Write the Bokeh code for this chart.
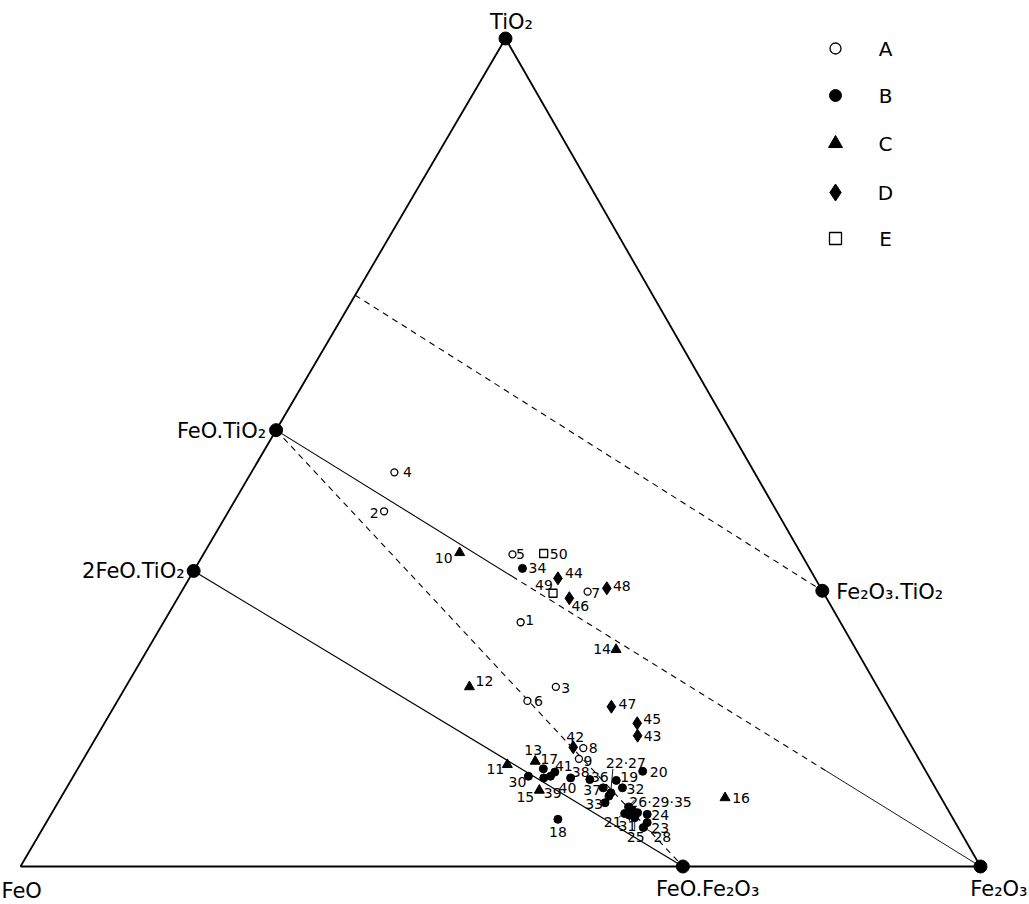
import numpy as np
from bokeh.plotting import figure
from bokeh.models import Range1d, ColumnDataSource
from bokeh.core.properties import value
from bokeh.embed import file_html
from bokeh.resources import INLINE

# ---------------- data (weight %) ----------------
sample_ids = [str(i) for i in range(1, 51)]
groups = (["A"] * 9) + (["C"] * 7) + (["B"] * 25) + (["D"] * 7) + (["E"] * 2)
tio2 = [29.5, 42.9, 21.7, 47.6, 37.7, 20.0, 33.2, 14.3, 13.0,
        37.9, 12.3, 21.7, 12.7, 26.2, 9.2, 8.3,
        11.8, 5.7, 10.4, 11.5, 6.4, 8.9, 5.3, 6.3, 5.9, 7.2, 8.5, 4.7, 6.8, 10.9,
        6.2, 9.5, 7.7, 36.0, 6.5, 10.5, 9.5, 10.7, 10.7, 10.9, 11.4,
        14.4, 15.8, 34.8, 17.3, 32.4, 19.3, 33.6,
        33.0, 37.8]
fe2o3 = [37.2, 16.2, 44.8, 14.9, 32.2, 42.7, 42.3, 51.4, 51.6,
         26.6, 44.5, 35.8, 47.2, 48.8, 49.4, 69.2,
         48.5, 53.1, 56.8, 59.0, 59.7, 57.0, 62.6, 62.1, 61.0, 59.7, 57.0, 62.5, 60.3, 47.4,
         60.3, 57.9, 57.0, 34.1, 61.0, 54.0, 55.9, 51.9, 49.1, 49.7, 49.9,
         50.3, 56.3, 38.4, 55.5, 40.8, 51.8, 44.1,
         38.8, 35.4]
feo = [33.3, 40.9, 33.5, 37.5, 30.1, 37.3, 24.5, 34.3, 35.4,
       35.5, 43.2, 42.5, 40.1, 25.0, 41.4, 22.5,
       39.7, 41.2, 32.8, 29.5, 33.9, 34.1, 32.1, 31.6, 33.1, 33.1, 34.5, 32.8, 32.9, 41.7,
       33.5, 32.6, 35.3, 29.9, 32.5, 35.5, 34.6, 37.4, 40.2, 39.4, 38.7,
       35.3, 27.9, 26.8, 27.2, 26.8, 28.9, 22.3,
       28.2, 26.8]
# combined labels in the original
point_labels = {"22": "22·27", "27": "", "26": "26·29·35", "29": "", "35": ""}

# reference compositions (weight %)
mineral_names = ["TiO₂", "FeO", "Fe₂O₃", "FeO.TiO₂", "2FeO.TiO₂",
                 "Fe₂O₃.TiO₂", "FeO.Fe₂O₃", "FeO.2TiO₂"]
mineral_tio2 = [100.0, 0.0, 0.0, 52.7, 35.7, 33.3, 0.0, 69.0]
mineral_fe2o3 = [0.0, 0.0, 100.0, 0.0, 0.0, 66.7, 69.0, 0.0]

legend_groups = ["A", "B", "C", "D", "E"]

# ---------------- layout ----------------
AX, AY = 50.52, 86.25      # apex position in plot units (base 0..100)
PX = 9.6                   # pixels per plot unit
W, H = 1029, 904
X0, Y0 = 20, 866           # pixel position of the FeO corner


def to_xy(t, f):
    t = np.asarray(t, float) / 100.0
    f = np.asarray(f, float) / 100.0
    return f * 100.0 + t * AX, t * AY


mx, my = to_xy(mineral_tio2, mineral_fe2o3)
M = {n: (mx[i], my[i]) for i, n in enumerate(mineral_names)}

p = figure(width=W, height=H,
           x_range=Range1d(-X0 / PX, (W - X0) / PX),
           y_range=Range1d(-(H - Y0) / PX, Y0 / PX),
           output_backend="svg", toolbar_location=None,
           x_axis_location=None, y_axis_location=None, min_border=0)
p.outline_line_color = None
p.background_fill_color = "white"
p.border_fill_color = "white"
p.grid.grid_line_color = None

FONT = value("DejaVu Sans")


def seg(a, b, frac0=0.0, frac1=1.0, **kw):
    x0, y0 = M[a]
    x1, y1 = M[b]
    xs = [x0 + (x1 - x0) * frac0, x0 + (x1 - x0) * frac1]
    ys = [y0 + (y1 - y0) * frac0, y0 + (y1 - y0) * frac1]
    p.line(xs, ys, line_color="black", **kw)


# triangle
seg("FeO", "Fe₂O₃", line_width=2.0)
seg("FeO", "TiO₂", line_width=1.8)
seg("Fe₂O₃", "TiO₂", line_width=1.8)
# tie lines
seg("2FeO.TiO₂", "FeO.Fe₂O₃", line_width=1.2)
seg("FeO.TiO₂", "FeO.Fe₂O₃", line_width=1.1, line_dash="6 5")
seg("FeO.2TiO₂", "Fe₂O₃.TiO₂", line_width=1.1, line_dash="6 5")
seg("FeO.TiO₂", "Fe₂O₃", 0.0, 0.335, line_width=1.1)
seg("FeO.TiO₂", "Fe₂O₃", 0.335, 0.78, line_width=1.1, line_dash="6 5")
seg("FeO.TiO₂", "Fe₂O₃", 0.78, 1.0, line_width=0.9)

# vertex dots
dot_names = ["TiO₂", "Fe₂O₃", "FeO.TiO₂", "2FeO.TiO₂", "Fe₂O₃.TiO₂", "FeO.Fe₂O₃"]
p.scatter([M[n][0] for n in dot_names], [M[n][1] for n in dot_names],
          marker="circle", size=13, fill_color="black", line_color="black")

# vertex labels (offset px, alignment, size)
mlab = {
    "TiO₂": (6, -17, "center", "21px"),
    "FeO.TiO₂": (-10, 1, "right", "21px"),
    "2FeO.TiO₂": (-9, 0, "right", "21px"),
    "Fe₂O₃.TiO₂": (14, 1, "left", "21px"),
    "FeO": (-19, 24, "left", "21px"),
    "FeO.Fe₂O₃": (-27, 22, "left", "21px"),
    "Fe₂O₃": (47, 22, "right", "21px"),
}
for n, (dx, dy, al, fs) in mlab.items():
    p.text([M[n][0]], [M[n][1]], text=[n], x_offset=dx, y_offset=dy,
           text_align=al, text_baseline="middle", text_font=FONT,
           text_font_size=fs, text_color="black")

# samples
sx, sy = to_xy(tio2, fe2o3)
styles = {
    "A": dict(marker="circle", size=7, fill_color="white", line_width=1.3),
    "B": dict(marker="circle", size=8, fill_color="black", line_width=1),
    "C": dict(marker="triangle", size=10, fill_color="black", line_width=1),
    "D": dict(marker="diamond", size=13, fill_color="black", line_width=1),
    "E": dict(marker="square", size=8, fill_color="white", line_width=1.3),
}
for g in legend_groups:
    idx = [i for i, gg in enumerate(groups) if gg == g]
    p.scatter(sx[idx], sy[idx], line_color="black", **styles[g])

# sample label offsets in px (dx, dy down)
loff = {
    "1": (9, -2), "2": (-10, 2), "3": (10, 1), "4": (13, 0), "5": (8, 0),
    "6": (11, 0), "7": (8, 1), "8": (10, 0), "9": (9, 2), "10": (-16, 5),
    "11": (-12, 4), "12": (15, -6), "13": (-2, -11), "14": (-14, -1),
    "15": (-14, 7), "16": (16, 0), "17": (6, -10), "18": (0, 13),
    "19": (13, -3), "20": (16, 1), "21": (-12, 8), "22": (15, -30),
    "23": (13, 5), "24": (13, 1), "25": (1, 19), "26": (32, -5),
    "28": (19, 9), "30": (-11, 6), "31": (-2, 11), "32": (13, 1),
    "33": (-11, 1), "34": (15, 0), "36": (10, -3), "37": (-11, 2),
    "38": (10, -6), "39": (9, 15), "40": (17, 12), "41": (9, -6),
    "42": (2, -10), "43": (15, 0), "44": (16, -5), "45": (15, -4),
    "46": (11, 8), "47": (16, -3), "48": (15, -2), "49": (-9, -8),
    "50": (15, 0),
}
lab_txt = [point_labels.get(s, s) for s in sample_ids]
src = ColumnDataSource(dict(
    x=sx, y=sy, t=lab_txt,
    dx=[loff.get(s, (0, 0))[0] for s in sample_ids],
    dy=[loff.get(s, (0, 0))[1] for s in sample_ids]))
p.text("x", "y", text="t", x_offset="dx", y_offset="dy", source=src,
       text_align="center", text_baseline="middle", text_font=FONT,
       text_font_size="14px", text_color="black")

# leader lines (px offsets from the sample point)
leaders = {"22": ((2, -24), (0, -2)), "26": ((6, -7), (0, 0)),
           "25": ((0, 12), (0, 2)), "28": ((11, 6), (2, 1)),
           "21": ((-6, 4), (-2, 1)), "31": ((0, 6), (0, 2))}
pos = {s: (sx[i], sy[i]) for i, s in enumerate(sample_ids)}
for s, ((ax_, ay_), (bx_, by_)) in leaders.items():
    x0, y0 = pos[s]
    p.line([x0 + ax_ / PX, x0 + bx_ / PX], [y0 - ay_ / PX, y0 - by_ / PX],
           line_color="black", line_width=0.9)

# legend (top right)
lx_sym, lx_txt = (835 - X0) / PX, (885 - X0) / PX
rows_px = [48, 95, 143, 192, 238]
leg_sizes = {"A": 11, "B": 12, "C": 14, "D": 17, "E": 12}
for g, r in zip(legend_groups, rows_px):
    st = dict(styles[g])
    st["size"] = leg_sizes[g]
    p.scatter([lx_sym], [(Y0 - r) / PX], line_color="black", **st)
    p.text([lx_txt], [(Y0 - r) / PX], text=[g], text_align="center",
           text_baseline="middle", text_font=FONT, text_font_size="20px",
           text_color="black")

open("out.html", "w").write(file_html(p, INLINE))
